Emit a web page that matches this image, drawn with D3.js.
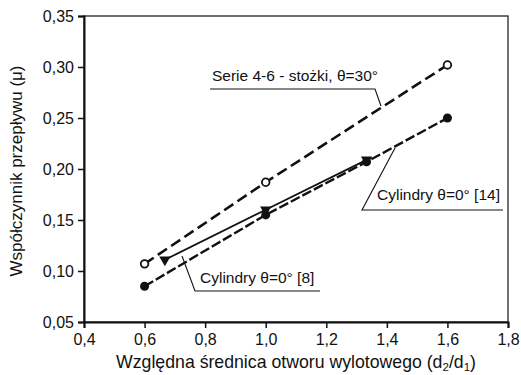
<!DOCTYPE html>
<html>
<head>
<meta charset="utf-8">
<script src="https://cdn.jsdelivr.net/npm/d3@7"></script>
<style>
  body { margin: 0; background: #fff; }
  svg { display: block; font-family: "Liberation Sans", Arial, sans-serif; }
</style>
</head>
<body>
<div id="chart"></div>
<script>
// Flow coefficient vs relative outlet diameter — three measurement series.
const xTicks = [0.4, 0.6, 0.8, 1.0, 1.2, 1.4, 1.6, 1.8];
const yTicks = [0.05, 0.10, 0.15, 0.20, 0.25, 0.30, 0.35];

const conesX = [0.6, 1.0, 1.6];
const conesY = [0.107, 0.187, 0.302];

const cyl14X = [0.6, 1.0, 1.333, 1.6];
const cyl14Y = [0.085, 0.155, 0.207, 0.250];

const cyl8X = [0.667, 1.0, 1.333];
const cyl8Y = [0.111, 0.160, 0.209];

const width = 521, height = 375;
const m = { top: 16, right: 13, bottom: 53, left: 84 };
const iw = width - m.left - m.right;
const ih = height - m.top - m.bottom;

const svg = d3.select("#chart").append("svg")
  .attr("width", width).attr("height", height).attr("viewBox", `0 0 ${width} ${height}`);
const g = svg.append("g").attr("transform", `translate(${m.left},${m.top})`);

const x = d3.scaleLinear().domain([0.4, 1.8]).range([0, iw]);
const y = d3.scaleLinear().domain([0.05, 0.35]).range([ih, 0]);

const comma = (f) => (d) => d3.format(f)(d).replace(".", ",");

// frame: thin top/right, heavier left/bottom axes
g.append("rect").attr("width", iw).attr("height", ih)
  .attr("fill", "none").attr("stroke", "#111").attr("stroke-width", 1.2);

const xAxis = g.append("g").attr("transform", `translate(0,${ih})`)
  .call(d3.axisBottom(x).tickValues(xTicks).tickFormat(comma(".1f")).tickSize(6).tickPadding(6));
const yAxis = g.append("g")
  .call(d3.axisLeft(y).tickValues(yTicks).tickFormat(comma(".2f")).tickSize(6).tickPadding(4));
[xAxis, yAxis].forEach((a) => {
  a.select(".domain").attr("stroke", "#111").attr("stroke-width", 2);
  a.selectAll(".tick line").attr("stroke", "#111").attr("stroke-width", 1.5);
  a.selectAll(".tick text").attr("font-size", 16).attr("fill", "#111")
    .attr("font-family", "Liberation Sans, Arial, sans-serif");
});

const pts = (xs, ys) => xs.map((v, i) => [v, ys[i]]);
const line = d3.line().x((d) => x(d[0])).y((d) => y(d[1]));

const cones = pts(conesX, conesY);
const cyl14 = pts(cyl14X, cyl14Y);
const cyl8 = pts(cyl8X, cyl8Y);

g.append("path").datum(cyl14).attr("d", line)
  .attr("fill", "none").attr("stroke", "#111").attr("stroke-width", 2.4).attr("stroke-dasharray", "10,3");
g.append("path").datum(cyl8).attr("d", line)
  .attr("fill", "none").attr("stroke", "#111").attr("stroke-width", 1.8);
g.append("path").datum(cones).attr("d", line)
  .attr("fill", "none").attr("stroke", "#111").attr("stroke-width", 2.6).attr("stroke-dasharray", "11,5");

g.selectAll("circle.open").data(cones).join("circle").attr("class", "open")
  .attr("cx", (d) => x(d[0])).attr("cy", (d) => y(d[1])).attr("r", 3.8)
  .attr("fill", "#fff").attr("stroke", "#111").attr("stroke-width", 1.8);
g.selectAll("circle.full").data(cyl14).join("circle").attr("class", "full")
  .attr("cx", (d) => x(d[0])).attr("cy", (d) => y(d[1])).attr("r", 4.5)
  .attr("fill", "#111");
g.selectAll("path.tri").data(cyl8).join("path").attr("class", "tri")
  .attr("d", d3.symbol().type(d3.symbolTriangle).size(55))
  .attr("transform", (d) => `translate(${x(d[0])},${y(d[1])}) rotate(180)`)
  .attr("fill", "#111");

// callout labels with underline + leader to the curve
function callout(tx, ty, text, ux1, ux2, uy, leader) {
  svg.append("text").attr("x", tx).attr("y", ty).attr("font-size", 15.5).attr("fill", "#111").text(text);
  svg.append("polyline")
    .attr("points", [[ux1, uy], [ux2, uy]].concat(leader).map((p) => p.join(",")).join(" "))
    .attr("fill", "none").attr("stroke", "#111").attr("stroke-width", 1.1);
}

callout(212, 81, "Serie 4-6 - stożki, θ=30°", 210, 375, 89, [[381, 106]]);
callout(377, 200, "Cylindry θ=0° [14]", 503, 362, 210, [[395, 148]]);
callout(200, 283, "Cylindry θ=0° [8]", 320, 195, 291, [[182, 256]]);

svg.append("text").attr("transform", `translate(22,${m.top + ih / 2 + 2}) rotate(-90)`)
  .attr("text-anchor", "middle").attr("font-size", 17).attr("fill", "#111")
  .text("Współczynnik przepływu (μ)");

const xt = svg.append("text").attr("x", m.left + iw / 2).attr("y", 368)
  .attr("text-anchor", "middle").attr("font-size", 17.7).attr("fill", "#111");
xt.append("tspan").text("Względna średnica otworu wylotowego (d");
xt.append("tspan").text("2").attr("font-size", 11.5).attr("dy", 3);
xt.append("tspan").text("/d").attr("dy", -3);
xt.append("tspan").text("1").attr("font-size", 11.5).attr("dy", 3);
xt.append("tspan").text(")").attr("dy", -3);
</script>
</body>
</html>
